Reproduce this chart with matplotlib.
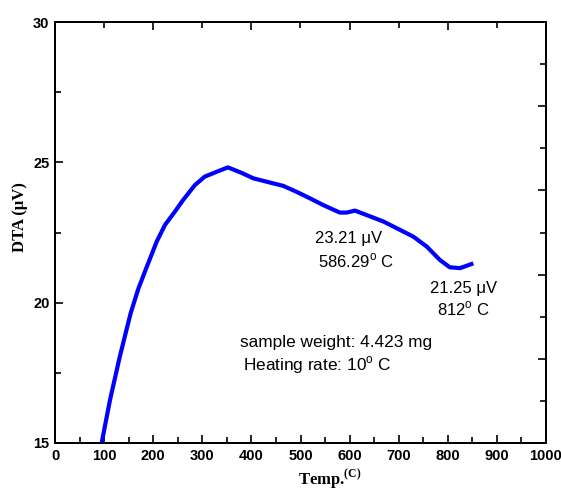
import matplotlib
matplotlib.use("Agg")
import matplotlib.pyplot as plt
from matplotlib.ticker import MultipleLocator, FixedLocator, NullFormatter

plt.rcParams['font.family'] = ['Liberation Sans', 'DejaVu Sans']
plt.rcParams['mathtext.fontset'] = 'custom'
plt.rcParams['mathtext.rm'] = 'Liberation Sans'
plt.rcParams['mathtext.bf'] = 'Liberation Serif:bold'

# DTA trace
temp = [95, 112, 132, 154, 170, 187, 207, 224, 244, 261, 285, 305, 326, 352,
        378, 404, 431, 465, 492, 519, 546, 580, 594, 611, 635, 669, 703, 730,
        757, 784, 804, 825, 852]
dta = [15.0, 16.53, 18.08, 19.62, 20.51, 21.28, 22.17, 22.77, 23.24, 23.66,
       24.19, 24.49, 24.64, 24.82, 24.64, 24.43, 24.31, 24.16, 23.95, 23.72,
       23.48, 23.21, 23.21, 23.28, 23.12, 22.89, 22.59, 22.35, 22.0, 21.52,
       21.26, 21.23, 21.40]

x_ticks = [0, 100, 200, 300, 400, 500, 600, 700, 800, 900, 1000]
y_ticks = [15, 20, 25, 30]

fig = plt.figure(figsize=(5.61, 4.92), dpi=100)
ax = fig.add_axes([55 / 561, 1 - 443 / 492, 491 / 561, 421 / 492])

ax.plot(temp, dta, color='#0000ff', lw=3, solid_joinstyle='round',
        solid_capstyle='butt', zorder=3)

ax.set_xlim(0, 1000)
ax.set_ylim(15, 30)
ax.set_xticks(x_ticks)
ax.set_yticks(y_ticks)
ax.xaxis.set_minor_locator(MultipleLocator(50))
ax.yaxis.set_minor_locator(MultipleLocator(2.5))
ax.tick_params(which='both', direction='in', top=False, right=False,
               labelsize=10.5, width=1.2, pad=4)
ax.tick_params(which='major', length=6)
ax.tick_params(which='minor', length=4)
for lbl in ax.get_xticklabels() + ax.get_yticklabels():
    lbl.set_fontweight('bold')
for sp in ax.spines.values():
    sp.set_linewidth(1.4)

# top and right frame ticks
axt = ax.twiny()
axt.set_xlim(0, 1000)
axt.xaxis.set_major_locator(MultipleLocator(200))
axt.xaxis.set_minor_locator(MultipleLocator(100))
axt.xaxis.set_major_formatter(NullFormatter())
axt.tick_params(which='both', direction='in', width=1.2)
axt.tick_params(which='major', length=6)
axt.tick_params(which='minor', length=4)

axr = ax.twinx()
axr.set_ylim(15, 30)
axr.yaxis.set_major_locator(MultipleLocator(3))
axr.yaxis.set_minor_locator(FixedLocator([16.5, 19.5, 22.5, 25.5, 28.5]))
axr.yaxis.set_major_formatter(NullFormatter())
axr.tick_params(which='both', direction='in', width=1.2)
axr.tick_params(which='major', length=6)
axr.tick_params(which='minor', length=4)
for a in (axt, axr):
    for sp in a.spines.values():
        sp.set_linewidth(1.4)

# annotations
ax.text(529, 22.13, '23.21 \u03bcV', fontsize=12, va='baseline')
ax.text(535, 21.27, '586.29$^{\\mathrm{o}}$ C', fontsize=12, va='baseline')
ax.text(764, 20.33, '21.25 \u03bcV', fontsize=12, va='baseline')
ax.text(777, 19.56, '812$^{\\mathrm{o}}$ C', fontsize=12, va='baseline')
ax.text(377, 18.43, 'sample weight: 4.423 mg', fontsize=12.4, va='baseline')
ax.text(383, 17.6, 'Heating rate: 10$^{\\mathrm{o}}$ C', fontsize=12.4, va='baseline')

fig.text(20 / 561, 1 - 217 / 492, 'DTA (\u03bcV)', rotation=90, ha='center', va='center',
         fontsize=12, fontweight='bold', family='Liberation Serif')
fig.text(298 / 561, 6 / 492, 'Temp.$^{\\mathbf{(C)}}$', ha='left', va='baseline',
         fontsize=12, fontweight='bold', family='Liberation Serif')

fig.savefig('out.png', dpi=100)
